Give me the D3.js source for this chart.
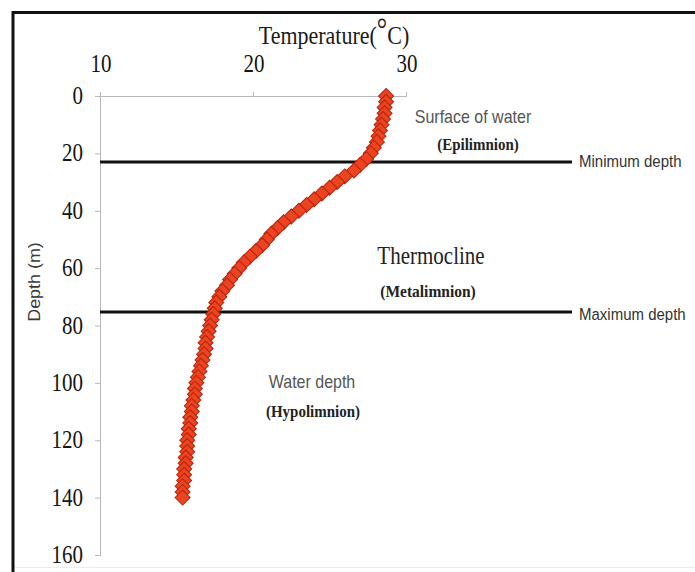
<!DOCTYPE html>
<html>
<head>
<meta charset="utf-8">
<script src="https://cdn.jsdelivr.net/npm/d3@7"></script>
<style>
  html, body { margin: 0; padding: 0; background: #fff; }
  svg { display: block; }
</style>
</head>
<body>
<svg id="chart" width="695" height="572"></svg>
<script>
// Lake temperature profile: depth (m) against water temperature (°C)
const depths = [
  0, 2, 4, 6, 8, 10, 12, 14, 16, 18, 20, 22, 24, 26, 28, 30, 32, 34, 36, 38,
  40, 42, 44, 46, 48, 50, 52, 54, 56, 58, 60, 62, 64, 66, 68, 70, 72, 74, 76, 78,
  80, 82, 84, 86, 88, 90, 92, 94, 96, 98, 100, 102, 104, 106, 108, 110, 112, 114, 116, 118,
  120, 122, 124, 126, 128, 130, 132, 134, 136, 138, 140
];
const temperatures = [
  28.7, 28.7, 28.6, 28.6, 28.5, 28.4, 28.3, 28.2, 28.1, 27.9, 27.7, 27.4, 27.0, 26.6, 26.0, 25.5, 25.0, 24.5, 24.0, 23.5,
  23.0, 22.5, 22.0, 21.6, 21.2, 20.9, 20.6, 20.2, 19.8, 19.4, 19.1, 18.8, 18.5, 18.3, 18.0, 17.8, 17.6, 17.5, 17.4, 17.3,
  17.2, 17.1, 17.0, 16.9, 16.9, 16.8, 16.7, 16.6, 16.5, 16.4, 16.3, 16.2, 16.2, 16.1, 16.0, 16.0, 15.9, 15.9, 15.8, 15.8,
  15.7, 15.7, 15.7, 15.6, 15.6, 15.5, 15.5, 15.5, 15.4, 15.4, 15.4
];
const tempTicks = [10, 20, 30];
const depthTicks = [0, 20, 40, 60, 80, 100, 120, 140, 160];

// Layer boundaries (m) and their labels
const boundaryDepths = [23, 75.3];
const boundaryLabels = ["Minimum depth", "Maximum depth"];

const svg = d3.select("#chart");

const x = d3.scaleLinear().domain([10, 30]).range([100, 406]);
const y = d3.scaleLinear().domain([0, 160]).range([96, 555]);

// Frame: heavy rule on the top and left edges
svg.append("line").attr("x1", 12).attr("x2", 695).attr("y1", 12.5).attr("y2", 12.5)
  .attr("stroke", "#111").attr("stroke-width", 3);
svg.append("line").attr("x1", 13).attr("x2", 13).attr("y1", 11).attr("y2", 572)
  .attr("stroke", "#111").attr("stroke-width", 3);
svg.append("line").attr("x1", 15).attr("x2", 695).attr("y1", 567.5).attr("y2", 567.5)
  .attr("stroke", "#ececec").attr("stroke-width", 1);

// Temperature axis along the top
const xAxis = svg.append("g").attr("transform", `translate(0,${y(0)})`)
  .call(d3.axisTop(x).tickValues(tempTicks).tickSize(4).tickFormat(""));
xAxis.select(".domain").attr("stroke", "#b8b8b8");
xAxis.selectAll(".tick line").attr("stroke", "#b8b8b8");

// Depth axis on the left
const yAxis = svg.append("g").attr("transform", `translate(${x(10)},0)`)
  .call(d3.axisLeft(y).tickValues(depthTicks).tickSize(5).tickFormat(""));
yAxis.select(".domain").attr("stroke", "#b8b8b8");
yAxis.selectAll(".tick line").attr("stroke", "#b8b8b8");

// Text helper: text is drawn slightly tall, stretched along its height
function label(t, px, py, opts) {
  const o = Object.assign({ size: 16, family: "Liberation Sans, Arial, sans-serif",
    weight: "normal", fill: "#444", anchor: "middle", sy: 1.15, rotate: 0 }, opts || {});
  const tr = o.rotate
    ? `translate(${px},${py}) rotate(${o.rotate}) scale(${o.sy},1)`
    : `translate(${px},${py}) scale(1,${o.sy})`;
  return svg.append("text")
    .attr("transform", tr)
    .attr("text-anchor", o.anchor)
    .attr("font-family", o.family)
    .attr("font-size", o.size)
    .attr("font-weight", o.weight)
    .attr("fill", o.fill)
    .text(t);
}
const serif = "Liberation Serif, Times New Roman, serif";

// Axis titles
const tt = label("", 334, 44, { family: serif, size: 22, fill: "#1a1a1a", sy: 1.18 });
tt.append("tspan").text("Temperature(");
tt.append("tspan").attr("font-size", 26).attr("dy", -3).text("°");
tt.append("tspan").attr("dy", 3).text("C)");
label("Depth (m)", 40, 282, { size: 16, rotate: -90, fill: "#3a3a3a", sy: 1.12 });

// Tick labels
tempTicks.forEach(v => label(String(v), x(v) + 1, 72, { family: serif, size: 21, fill: "#151515", sy: 1.18 }));
depthTicks.forEach(v => label(String(v), 83, y(v) + 8, { family: serif, size: 21, fill: "#151515", anchor: "end", sy: 1.18 }));

// Layer boundary lines
boundaryDepths.forEach((d, i) => {
  svg.append("line")
    .attr("x1", x(10)).attr("x2", 572)
    .attr("y1", y(d)).attr("y2", y(d))
    .attr("stroke", "#111").attr("stroke-width", 3);
  label(boundaryLabels[i], 579, y(d) + 5 + i * 3, { size: 15, anchor: "start", fill: "#333", sy: 1.15 });
});

// Layer annotations
label("Surface of water", 473, 123, { size: 16, fill: "#555" });
label("(Epilimnion)", 478, 150, { family: serif, size: 15, weight: "bold", fill: "#222", sy: 1.1 });
label("Thermocline", 431, 264, { family: serif, size: 21, fill: "#222", sy: 1.2 });
label("(Metalimnion)", 428, 297, { family: serif, size: 15.5, weight: "bold", fill: "#222", sy: 1.1 });
label("Water depth", 312, 388, { size: 16, fill: "#555" });
label("(Hypolimnion)", 313, 417, { family: serif, size: 15, weight: "bold", fill: "#222", sy: 1.1 });

// Profile markers: diamonds at each sampled depth
const profile = depths.map((d, i) => ({ depth: d, temp: temperatures[i] }));
const diamond = d3.symbol().type(d3.symbolSquare).size(112);
svg.append("g").selectAll("path")
  .data(profile)
  .join("path")
  .attr("d", diamond)
  .attr("transform", p => `translate(${x(p.temp)},${y(p.depth)}) rotate(45)`)
  .attr("fill", "#ec4320")
  .attr("stroke", "#b5220b")
  .attr("stroke-width", 1);
</script>
</body>
</html>
